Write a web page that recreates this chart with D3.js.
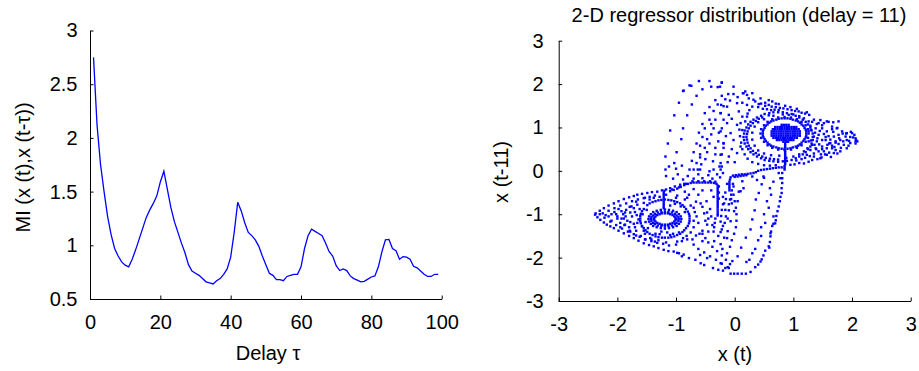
<!DOCTYPE html>
<html><head><meta charset="utf-8">
<script src="https://cdn.jsdelivr.net/npm/d3@7"></script>
<style>body{margin:0;background:#fff}svg{display:block}</style>
</head><body><svg id="c" width="919" height="371"></svg>
<script>
// ---------- Left panel data ----------
const miDelays = d3.range(1, 100);
const miValues = [2.75,2.12,1.75,1.50,1.27,1.10,0.97,0.90,0.845,0.815,
0.80,0.87,0.96,1.06,1.16,1.26,1.33,1.39,1.46,1.59,
1.69,1.52,1.35,1.22,1.12,1.02,0.93,0.82,0.76,0.74,
0.72,0.69,0.66,0.65,0.64,0.67,0.69,0.73,0.78,0.89,
1.12,1.40,1.32,1.21,1.12,1.09,1.05,0.99,0.90,0.82,
0.74,0.72,0.68,0.68,0.67,0.71,0.72,0.73,0.73,0.80,
0.97,1.09,1.15,1.13,1.11,1.09,1.02,0.94,0.90,0.81,
0.765,0.78,0.765,0.715,0.69,0.675,0.66,0.665,0.685,0.705,
0.715,0.80,0.94,1.05,1.055,0.97,0.95,0.87,0.895,0.89,
0.87,0.805,0.79,0.76,0.73,0.71,0.71,0.73,0.73];
const leftXTicks = [0,20,40,60,80,100];
const leftYTicks = [0.5,1,1.5,2,2.5,3];
const rightTicks = [-3,-2,-1,0,1,2,3];

// ---------- Right panel data (x(t), x(t-11)) ----------
const rightCore = [[0.80,1.06],[0.84,1.06],[0.88,1.06],[0.92,1.06],
[0.69,1.01],[0.73,1.01],[0.77,1.01],[0.81,1.01],[0.85,1.01],[0.89,1.01],[0.93,1.01],[0.97,1.01],[1.01,1.01],[1.05,1.01],
[0.65,0.96],[0.69,0.96],[0.73,0.96],[0.77,0.96],[0.81,0.96],[0.85,0.96],[0.89,0.96],[0.93,0.96],[0.97,0.96],[1.01,0.96],[1.05,0.96],[1.09,0.96],
[0.63,0.91],[0.67,0.91],[0.71,0.91],[0.75,0.91],[0.79,0.91],[0.83,0.91],[0.87,0.91],[0.91,0.91],[0.95,0.91],[0.99,0.91],[1.03,0.91],[1.07,0.91],[1.11,0.91],
[0.63,0.86],[0.67,0.86],[0.71,0.86],[0.75,0.86],[0.79,0.86],[0.83,0.86],[0.87,0.86],[0.91,0.86],[0.95,0.86],[0.99,0.86],[1.03,0.86],[1.07,0.86],[1.11,0.86],
[0.63,0.81],[0.67,0.81],[0.71,0.81],[0.75,0.81],[0.79,0.81],[0.83,0.81],[0.87,0.81],[0.91,0.81],[0.95,0.81],[0.99,0.81],[1.03,0.81],[1.07,0.81],[1.11,0.81],
[0.66,0.76],[0.70,0.76],[0.74,0.76],[0.78,0.76],[0.82,0.76],[0.86,0.76],[0.90,0.76],[0.94,0.76],[0.98,0.76],[1.02,0.76],[1.06,0.76],
[0.72,0.71],[0.76,0.71],[0.80,0.71],[0.84,0.71],[0.88,0.71],[0.92,0.71],[0.96,0.71],[1.00,0.71],
[0.83,0.67],[0.87,0.67],[0.91,0.67]];
const rightRingA = [[1.22,0.86],[1.22,0.91],[1.21,0.95],[1.19,0.99],[1.17,1.04],[1.14,1.07],[1.11,1.11],[1.08,1.14],[1.04,1.16],[0.99,1.18],[0.95,1.20],[0.90,1.21],[0.85,1.21],
[0.80,1.21],[0.75,1.20],[0.71,1.18],[0.66,1.16],[0.62,1.14],[0.59,1.11],[0.56,1.07],[0.53,1.04],[0.51,0.99],[0.49,0.95],[0.48,0.91],[0.48,0.86],
[0.48,0.81],[0.49,0.77],[0.51,0.73],[0.53,0.69],[0.56,0.65],[0.59,0.61],[0.62,0.58],[0.66,0.56],[0.71,0.54],[0.75,0.52],[0.80,0.51],[0.85,0.51],
[0.90,0.51],[0.95,0.52],[0.99,0.54],[1.04,0.56],[1.08,0.58],[1.11,0.61],[1.14,0.65],[1.17,0.69],[1.19,0.73],[1.21,0.77],[1.22,0.81]];
const rightRingA2 = [[1.26,0.86],[1.25,0.96],[1.21,1.05],[1.14,1.13],[1.06,1.19],[0.96,1.23],[0.85,1.24],[0.74,1.23],[0.64,1.19],[0.56,1.13],[0.50,1.05],[0.45,0.96],[0.44,0.86],[0.45,0.76],[0.50,0.67],[0.56,0.59],[0.64,0.53],[0.74,0.49],[0.85,0.48],[0.96,0.49],[1.06,0.53],[1.14,0.59],[1.21,0.67],[1.25,0.76]];
const rightRingB = [[1.33,0.78],[1.33,0.86],[1.31,0.93],[1.29,1.00],[1.25,1.07],[1.21,1.13],[1.16,1.18],[1.10,1.23],[1.04,1.27],[0.97,1.31],[0.89,1.33],[0.82,1.35],[0.74,1.35],
[0.66,1.35],[0.59,1.33],[0.51,1.31],[0.45,1.27],[0.38,1.23],[0.32,1.18],[0.27,1.13],[0.23,1.07],[0.20,1.00],[0.17,0.93],[0.16,0.86],[0.15,0.78],
[0.16,0.71],[0.17,0.63],[0.20,0.56],[0.23,0.50],[0.27,0.43],[0.32,0.38],[0.38,0.33],[0.45,0.29],[0.51,0.25],[0.59,0.23],[0.66,0.22],[0.74,0.21],
[0.82,0.22],[0.89,0.23],[0.97,0.25],[1.04,0.29],[1.10,0.33],[1.16,0.38],[1.21,0.43],[1.25,0.50],[1.29,0.56],[1.31,0.63],[1.33,0.71]];
const rightRingB2 = [[0.47,1.23],[0.36,1.15],[0.27,1.04],[0.22,0.91],[0.20,0.78],[0.22,0.65],[0.27,0.52],[0.36,0.41],[0.47,0.33],[0.60,0.28],[0.74,0.26],
[0.41,1.20],[0.31,1.10],[0.24,0.98],[0.21,0.85],[0.21,0.72],[0.24,0.58],[0.31,0.46],[0.41,0.37],[0.53,0.30],[0.67,0.27],
[0.88,0.30],[1.00,0.33],[1.10,0.38],[1.18,0.45],[1.24,0.52],[1.00,1.30],[1.10,1.26],[1.18,1.21],[0.92,1.29],[0.58,1.28],
[0.34,1.02],[0.30,0.88],[0.30,0.72],[0.34,0.58],[0.40,0.47],[0.50,0.40],[0.62,0.36],[0.76,0.35],[0.40,1.12],[0.50,1.19],[0.66,1.27],[0.82,1.30]];
const rightStem = [[0.86,0.63],[0.86,0.59],[0.86,0.55],[0.86,0.47],[0.86,0.43],[0.86,0.39],[0.86,0.35],[0.86,0.31],[0.86,0.27],[0.86,0.23],[0.86,0.19],[0.86,0.15],[0.85,0.11],[0.85,0.07],[0.85,0.03]];
const rightTail = [[1.32,1.13],[1.40,1.08],[1.49,1.05],[1.60,1.13],[1.66,0.96],[1.75,0.99],[1.84,0.86],[1.90,0.86],[1.98,0.90],[2.02,0.77],[2.07,0.71],[2.06,0.63],[1.94,0.58],[1.81,0.53],[1.72,0.48],[1.61,0.42],[1.54,0.38],[1.48,0.31],[1.41,0.27],[1.32,0.25],[1.26,0.21],[1.18,0.17],[1.78,0.75],[1.72,0.65],[1.66,0.58],[1.61,0.63],[1.55,0.78],[1.49,0.71],[1.44,0.61],[1.39,0.50],[1.35,0.40],[1.75,0.40],[1.64,0.32],[1.49,0.50],
[1.26,1.14],[1.35,1.18],[1.43,1.10],[1.57,1.14],[1.49,0.98],[1.57,0.91],[1.66,1.02],[1.74,0.98],[1.83,0.91],[1.91,0.87],[2.00,0.87],[2.06,0.75],[2.06,0.68],[1.97,0.64],[1.91,0.52],[1.80,0.45],[1.69,0.41],[1.57,0.37],[1.46,0.29],[1.35,0.33],[1.80,0.71],[1.72,0.68],[1.69,0.79],[1.63,0.64],[1.55,0.71],[1.49,0.56],[1.40,0.68],[1.38,0.52],[1.43,0.45],[1.29,0.48],[1.23,0.37],[1.32,0.60],[1.35,0.79],[1.43,0.83],[1.26,0.91],[1.26,0.68],[1.57,0.52],[1.66,0.52],[1.86,0.60],[1.91,0.71],[1.97,0.78],[1.89,0.79],[1.77,0.83],
[1.30,0.95],[1.30,0.70],[1.37,0.88],[1.36,0.60],[1.45,0.92],[1.52,0.85],[1.60,0.80],[1.68,0.90],[1.58,0.60],[1.52,0.45],[1.47,0.38],[1.70,0.55],[1.77,0.62],[1.85,0.68],[1.63,0.72],[1.41,0.75],[2.09,0.68],[2.04,0.83],[1.95,0.69],[1.29,1.04],[1.38,0.98],[1.46,1.17],[1.52,1.10],[1.68,1.12],[1.77,1.14],
[1.10,0.18],[1.02,0.15],[0.95,0.14],[1.14,0.27],[1.20,0.30],[1.28,0.34],[1.05,0.24]];
const rightUpper = [[0.35,1.60],[0.45,1.55],[0.52,1.50],[0.58,1.52],[0.63,1.48],[0.70,1.47],[0.77,1.45],[0.83,1.44],[0.90,1.42],[0.97,1.40],[1.03,1.38],[1.09,1.37],[1.14,1.34],[1.20,1.32],[1.27,1.29],[0.40,1.47],[0.48,1.43],[0.55,1.42],[0.62,1.40],[0.68,1.41],[0.75,1.40],[0.30,1.48],[0.25,1.40],[0.22,1.32],[0.44,1.67],[0.52,1.57],[0.64,1.60],[0.75,1.54],[0.95,1.47],[1.06,1.43],[1.23,1.35],[0.86,1.50],[0.70,1.55],[0.58,1.63],[0.15,1.79],[0.30,1.79],[0.24,1.67],[0.13,1.25],[0.10,1.10],[0.08,0.95],[0.09,0.80],[0.11,0.65],[0.13,0.50],[0.17,0.38],[0.22,0.28],[0.30,0.20],[0.40,0.16],[0.50,0.13],[0.60,0.12],[0.70,0.13]];
const upperBand = [[-0.61,2.07],[-0.43,2.07],[-0.77,1.97],[-0.22,2.03],[-0.55,1.88],[-0.40,1.94],[-0.25,1.94],[-0.88,1.84],[-0.65,1.73],[-0.22,1.73],[-0.95,1.57],[-0.73,1.53],[-0.33,1.63],[-0.29,1.53],[-0.19,1.49],[-0.43,1.47],
[-1.03,1.28],[-0.81,1.28],[-0.51,1.33],[-0.36,1.38],[-0.24,1.33],[-0.43,1.18],[-0.33,1.18],[-0.19,1.18],[-1.10,0.93],[-0.88,0.98],[-0.55,1.08],[-0.40,1.08],[-0.51,0.98],[-0.36,0.98],[-0.22,0.98],[-0.61,0.88],[-0.40,0.84],[-0.27,0.88],[-0.55,0.78],[-0.47,0.73],
[-1.14,0.63],[-0.91,0.73],[-0.65,0.63],[-0.59,0.58],[-0.43,0.63],[-0.28,0.68],[-0.19,0.63],[-0.51,0.53],[-0.33,0.53],[-0.19,0.53],[-0.99,0.43],[-0.70,0.43],[-0.59,0.38],[-0.47,0.43],[-0.33,0.38],[-0.22,0.38],[-1.18,0.33],[-0.59,0.31],[-0.50,0.27],[-0.37,0.22],
[-1.03,0.18],[-0.73,0.23],[-0.65,0.18],[-0.57,0.15],[-0.24,0.18],[-1.18,0.03],[-0.77,0.03],[-0.70,0.03],[-0.63,0.03],[-0.59,0.03],[-0.43,-0.01],[-0.36,0.03],[-0.24,0.03],
[-0.22,2.04],[-0.02,1.94],[-0.11,1.77],[-0.02,1.77],[0.14,1.79],[0.21,1.75],[0.32,1.64],[-0.16,1.65],[-0.23,1.52],[-0.13,1.48],[0.04,1.56],[0.13,1.57],[0.21,1.52],[0.41,1.54],[-0.24,1.33],[-0.10,1.29],[0.07,1.37],[0.21,1.25],[-0.13,1.10],[0.04,1.06],[0.18,1.14],[-0.24,0.91],[-0.07,0.87],[0.13,0.94],[-0.19,0.64],[-0.02,0.71],[0.10,0.56],[-0.24,0.37],[-0.10,0.33],[0.04,0.41],[-0.26,0.10],[-0.12,0.20],[0.00,0.20],[-0.05,0.50],[-0.15,0.80],[-0.05,1.20],[0.05,1.70],[-0.08,1.62],[-0.74,1.96],[-0.87,1.85],[-0.29,1.93],[0.18,1.83],
[-1.17,-0.12],[-1.05,-0.18],[-0.97,-0.08],[-0.88,-0.20],[-0.80,-0.12],[-0.70,-0.18],[-0.62,-0.08],[-0.55,-0.17],[-0.45,-0.10],[-0.38,-0.18],[-0.30,-0.08],[-0.25,-0.15],[-0.22,0.10],[-0.20,-0.05],[-1.12,0.10],[-1.00,0.05],[-0.90,0.12]];
const leftRing1 = [[-1.00,-1.11],[-1.01,-1.08],[-1.03,-1.05],[-1.06,-1.02],[-1.10,-1.00],[-1.14,-0.98],[-1.19,-0.98],[-1.24,-0.98],[-1.28,-1.00],[-1.32,-1.02],[-1.35,-1.05],[-1.37,-1.08],[-1.38,-1.11],[-1.37,-1.14],[-1.35,-1.17],[-1.32,-1.20],[-1.28,-1.22],[-1.24,-1.24],[-1.19,-1.24],[-1.14,-1.24],[-1.10,-1.22],[-1.06,-1.20],[-1.03,-1.17],[-1.01,-1.14]];
const leftRing2 = [[-0.955,-1.11],[-0.96,-1.07],[-0.99,-1.03],[-1.02,-0.99],[-1.07,-0.96],[-1.13,-0.95],[-1.19,-0.94],[-1.25,-0.95],[-1.31,-0.96],[-1.36,-0.99],[-1.39,-1.03],[-1.42,-1.07],[-1.43,-1.11],[-1.42,-1.15],[-1.39,-1.20],[-1.36,-1.23],[-1.31,-1.26],[-1.25,-1.27],[-1.19,-1.28],[-1.13,-1.27],[-1.07,-1.26],[-1.02,-1.23],[-0.99,-1.20],[-0.96,-1.15]];
const leftRing3 = [[-0.91,-1.11],[-0.92,-1.05],[-0.95,-1.00],[-0.99,-0.95],[-1.05,-0.92],[-1.12,-0.90],[-1.19,-0.89],[-1.26,-0.90],[-1.33,-0.92],[-1.39,-0.95],[-1.43,-1.00],[-1.46,-1.05],[-1.47,-1.11],[-1.46,-1.17],[-1.43,-1.22],[-1.39,-1.27],[-1.33,-1.30],[-1.26,-1.32],[-1.19,-1.33],[-1.12,-1.32],[-1.05,-1.30],[-0.99,-1.27],[-0.95,-1.22],[-0.92,-1.17]];
const leftRing4 = [[-0.77,-1.10],[-0.78,-0.99],[-0.83,-0.88],[-0.89,-0.79],[-0.98,-0.72],[-1.08,-0.68],[-1.19,-0.66],[-1.30,-0.68],[-1.40,-0.72],[-1.49,-0.79],[-1.55,-0.88],[-1.60,-0.99],[-1.61,-1.10],[-1.60,-1.21],[-1.55,-1.32],[-1.49,-1.41],[-1.40,-1.48],[-1.30,-1.53],[-1.19,-1.54],[-1.08,-1.53],[-0.98,-1.48],[-0.89,-1.41],[-0.83,-1.32],[-0.78,-1.21],
[-0.80,-0.94],[-0.86,-0.83],[-0.93,-0.75],[-1.03,-0.70],[-1.13,-0.67],[-1.25,-0.67],[-1.35,-0.70],[-1.45,-0.75],
[-1.58,-0.93],[-1.61,-1.04],[-1.61,-1.16],[-1.58,-1.27],[-1.52,-1.37],[-1.45,-1.45],[-1.35,-1.51],[-1.24,-1.54],[-1.13,-1.54],[-1.03,-1.51],[-0.93,-1.45],[-0.86,-1.37],[-0.80,-1.27],[-0.77,-1.16],[-0.77,-1.04]];
const leftRing5 = [[-0.45,-1.10],[-0.47,-0.96],[-0.55,-0.83],[-0.66,-0.71],[-0.81,-0.62],[-0.98,-0.57],[-1.17,-0.55],[-1.36,-0.57],[-1.53,-0.62],[-1.68,-0.71],[-1.79,-0.83],[-1.87,-0.96],[-1.89,-1.10],[-1.87,-1.24],[-1.79,-1.38],[-1.68,-1.49],[-1.53,-1.58],[-1.36,-1.63],[-1.17,-1.65],[-0.98,-1.63],[-0.81,-1.58],[-0.66,-1.49],[-0.55,-1.38],[-0.47,-1.24]];
const leftTriangle = [[-2.37,-0.98],[-2.30,-0.92],[-2.23,-0.86],[-2.15,-0.80],[-2.06,-0.75],[-1.98,-0.70],[-1.89,-0.65],[-1.80,-0.61],[-1.72,-0.58],[-1.66,-0.55],[-1.58,-0.53],[-1.49,-0.51],[-1.41,-0.49],[-1.32,-0.48],[-1.24,-0.45],[-1.17,-0.43],[-1.10,-0.40],[-1.02,-0.36],[-0.93,-0.32],[-0.86,-0.30],
[-2.38,-1.01],[-2.34,-1.07],[-2.29,-1.13],[-2.23,-1.19],[-2.18,-1.24],[-2.12,-1.28],[-2.06,-1.32],[-1.98,-1.38],[-1.89,-1.44],[-1.80,-1.50],[-1.72,-1.55],[-1.64,-1.61],[-1.55,-1.67],[-1.46,-1.71],[-1.38,-1.74],[-1.30,-1.78],[-1.21,-1.82],[-1.13,-1.85],[-1.04,-1.86],[-0.95,-1.90],[-0.87,-1.93],
[-2.25,-0.98],[-2.15,-0.92],[-2.05,-0.86],[-1.95,-0.80],[-1.85,-0.75],[-1.75,-0.70],[-1.65,-0.66],[-1.55,-0.63],[-1.45,-0.60],
[-2.22,-1.08],[-2.12,-1.17],[-2.02,-1.25],[-1.92,-1.33],[-1.82,-1.40],[-1.72,-1.46],[-1.62,-1.52],[-1.52,-1.58],[-1.42,-1.62],[-1.32,-1.66],
[-2.30,-1.00],[-2.20,-1.02],[-2.10,-1.00],[-2.00,-1.05]];
const leftScatter = [[-2.05,-0.95],[-2.00,-1.10],[-1.95,-1.20],[-1.98,-0.88],[-1.90,-1.00],[-1.85,-0.90],[-1.83,-1.15],[-1.80,-1.30],[-1.76,-0.82],[-1.75,-1.05],[-1.72,-1.22],[-1.70,-0.95],[-1.68,-1.38],[-1.66,-0.78],[-1.64,-1.12],[-1.62,-0.88],[-1.58,-1.28],[-1.57,-1.00],[-1.55,-0.74],[-1.53,-1.45],[-1.52,-1.18],[-1.50,-0.90],[-1.48,-1.32],[-1.45,-0.66],[-1.44,-1.55],[-1.38,-0.62],[-1.35,-1.45],[-1.30,-1.60],[-1.28,-0.60],[-1.25,-1.40],[-1.22,-1.68],[-1.15,-1.42],[-1.12,-1.72],[-1.10,-0.80],[-1.05,-1.45],[-1.02,-0.76],[-1.00,-1.70],[-0.95,-1.42],[-0.92,-0.82],[-0.90,-1.62],[-0.85,-0.95],[-0.82,-1.50],[-0.75,-0.80],[-0.72,-1.58],[-0.70,-1.30],[-0.68,-0.95],[-0.65,-1.05],[-0.62,-1.20],[-0.60,-1.45],[-0.58,-0.75],[-0.55,-1.62],[-0.52,-0.98],[-0.50,-1.15],[-0.48,-0.70],[-0.45,-1.40],[-0.42,-0.88],[-0.40,-1.05],[-0.38,-1.25],[-0.36,-0.60],[-0.40,-0.45],[-0.55,-0.45],[-0.70,-0.42],[-0.85,-0.48],[-0.62,-0.55],[-0.78,-0.55],[-1.95,-1.30],[-2.10,-1.15],[-2.15,-1.05],[-1.88,-1.25],[-1.78,-1.40],[-1.60,-1.50],
[-2.02,-1.00],[-1.93,-0.93],[-1.93,-1.10],[-1.86,-1.05],[-1.78,-0.96],[-1.78,-1.18],[-1.72,-0.86],[-1.70,-1.30],[-1.67,-1.02],[-1.66,-1.20],[-1.55,-1.38],[-1.42,-1.58],[-1.28,-1.46],[-1.10,-1.48],[-0.88,-1.55],[-0.75,-1.42],[-0.70,-1.15],[-0.70,-0.85],[-0.85,-0.66],[-1.00,-0.62]];
const leftStrands = [[-1.21,-0.86],[-1.21,-0.81],[-1.21,-0.76],[-1.21,-0.71],[-1.21,-0.66],[-1.21,-0.61],[-1.21,-0.56],[-1.21,-0.51],[-1.20,-0.46],
[-1.10,-0.47],[-1.04,-0.44],[-0.98,-0.41],[-0.92,-0.37],[-0.86,-0.33],[-0.80,-0.30],[-0.75,-0.28],[-0.70,-0.27],[-0.65,-0.27],[-0.60,-0.27],[-0.55,-0.27],[-0.50,-0.27],[-0.45,-0.27],[-0.40,-0.27],[-0.35,-0.28],[-0.31,-0.30],[-0.72,-0.24],[-0.62,-0.24],[-0.52,-0.24],[-0.42,-0.24],[-0.33,-0.25],[-1.07,-0.43],[-0.95,-0.38],[-0.83,-0.30],
[-0.29,-0.34],[-0.29,-0.39],[-0.29,-0.44],[-0.29,-0.49],[-0.29,-0.54],[-0.29,-0.59],[-0.29,-0.64],[-0.29,-0.69],[-0.29,-0.74],[-0.29,-0.79],[-0.29,-0.84],[-0.29,-0.89],[-0.29,-0.94],[-0.29,-0.99],[-0.29,-1.03],[-0.27,-0.36],[-0.27,-0.50],[-0.27,-0.64],
[-0.33,-1.10],[-0.34,-1.20],[-0.35,-1.30],[-0.36,-1.40]];
const rightStrands = [[-0.09,-0.45],[-0.09,-0.40],[-0.09,-0.35],[-0.09,-0.30],[-0.09,-0.25],[-0.08,-0.20],[-0.07,-0.15],[-0.03,-0.11],[0.02,-0.10],[0.07,-0.09],[0.12,-0.08],[0.17,-0.08],[0.22,-0.07],[0.27,-0.06],[0.32,-0.05],[0.36,-0.03],[0.40,0.00],[0.45,0.02],[0.50,0.03],[0.55,0.04],[0.60,0.05],[0.65,0.06],[0.70,0.07],[0.75,0.08],[0.80,0.08],[0.00,-0.14],[0.05,-0.13],[0.10,-0.12],[0.15,-0.11],[0.20,-0.10],[-0.06,-0.55],[-0.06,-0.65],[-0.05,-0.75]];
const lowerBand = [[0.81,-0.05],[0.81,-0.17],[0.81,-0.28],[0.80,-0.40],[0.80,-0.51],[0.78,-0.60],[0.77,-0.70],[0.75,-0.82],[0.73,-0.93],[0.71,-1.04],[0.70,-1.14],[0.66,-1.22],[0.64,-1.27],[0.62,-1.40],[0.61,-1.51],[0.60,-1.64],[0.59,-1.77],[0.52,-1.84],[0.49,-1.95],[0.46,-2.04],[0.40,-2.16],[0.35,-2.22],[0.27,-2.33],[0.19,-2.37],[0.12,-2.37],[0.05,-2.37],[-0.01,-2.37],[-0.07,-2.37],
[0.50,-0.16],[0.46,-0.31],[0.41,-0.51],[0.36,-0.66],[0.34,-0.91],[0.30,-1.12],[0.27,-1.35],[0.19,-1.54],[0.11,-1.77],[0.05,-1.97],[-0.04,-2.08],[-0.10,-2.24],
[0.13,-0.24],[0.10,-0.47],[0.05,-0.70],[-0.01,-0.93],[-0.07,-1.16],[-0.12,-1.39],[-0.18,-1.54],
[-0.55,-1.45],[-0.50,-1.55],[-0.45,-1.65],[-0.38,-1.75],[-0.30,-1.85],[-0.22,-1.95],[-0.15,-2.05],[-0.08,-2.15],[-0.70,-1.70],[-0.62,-1.80],[-0.52,-1.88],[-0.42,-1.97],[-0.32,-2.05],[-0.22,-2.14],[-0.12,-2.22],[-0.20,-0.60],[-0.18,-0.75],[-0.16,-0.90],[-0.15,-1.05],[-0.17,-1.20],[-0.22,-1.35],[-0.28,-1.50],[-0.35,-1.62],[-0.02,-0.55],[0.00,-0.70],[0.02,-0.85],[0.03,-1.00],[0.03,-1.15],[0.02,-1.30],[-0.01,-1.45],[-0.05,-1.60],[-0.08,-1.75],[-0.13,-1.90],
[-0.98,-1.89],[-0.90,-1.97],[-0.78,-2.01],[-0.67,-2.05],[-0.58,-2.13],[-0.52,-2.17],[-0.37,-2.24],[-0.28,-2.28],[-0.20,-2.30],[-0.47,-2.01],[-0.59,-1.94],[-0.24,-2.13],[-0.16,-2.24],
[0.30,-0.13],[0.38,-0.21],[0.49,-0.13],[0.66,-0.25],[0.75,-0.05],[0.78,-0.17],[0.07,-0.48],[0.15,-0.40],[-0.02,-0.36],[0.60,-0.40],[0.55,-0.70],[0.50,-1.00],[0.45,-1.30],[0.40,-1.60],[0.30,-1.90],[0.20,-2.10],[0.62,-0.55],[0.58,-0.85],[0.52,-1.20],[0.45,-1.50],[0.35,-1.80],[0.25,-2.05],[0.66,-1.05],[0.69,-1.21],[0.61,-1.44],[0.58,-1.74],[0.44,-2.09],
[-0.13,-0.30],[-0.03,-0.30],[-0.16,-0.50],[-0.05,-0.45],[-0.15,-0.65],[-0.08,-0.66],[-0.20,-0.77],[-0.10,-0.77],[-0.22,-0.90],[-0.10,-0.91],[-0.23,-1.04],[-0.24,-1.17],[-0.12,-1.10],[-0.20,-1.27],[-0.24,-1.41],[-0.13,-1.55],[-0.24,-1.69],[-0.21,-1.80]];

// ---------- Drawing ----------
const FONT = '"Liberation Sans", Arial, Helvetica, sans-serif';
const BLUE = '#0000ff';
const svg = d3.select('#c');
svg.append('rect').attr('width', 919).attr('height', 371).attr('fill', '#fff');

function styleAxis(g) {
  g.attr('font-size', 20).attr('font-family', FONT);
  g.selectAll('path.domain').attr('stroke', '#000').attr('stroke-width', 1);
  g.selectAll('.tick line').attr('stroke', '#000');
  g.selectAll('.tick text').attr('fill', '#000');
}

// Left panel
const xL = d3.scaleLinear().domain([0, 100]).range([90, 441.7]);
const yL = d3.scaleLinear().domain([0.5, 3]).range([299, 30.5]);
svg.append('g').attr('transform', 'translate(0,299)')
  .call(d3.axisBottom(xL).tickValues(leftXTicks).tickSize(-3.5).tickSizeOuter(0).tickPadding(16).tickFormat(d => String(d)))
  .call(styleAxis);
svg.append('g').attr('transform', 'translate(90,0)')
  .call(d3.axisLeft(yL).tickValues(leftYTicks).tickSize(-3.5).tickSizeOuter(0).tickPadding(12.5).tickFormat(d => String(d)))
  .call(styleAxis);
svg.append('path')
  .datum(miValues)
  .attr('fill', 'none').attr('stroke', BLUE).attr('stroke-width', 1.3)
  .attr('d', d3.line().x((d, i) => xL(miDelays[i])).y(d => yL(d)));
svg.append('text').attr('x', 268).attr('y', 360).attr('text-anchor', 'middle')
  .attr('font-family', FONT).attr('font-size', 20).text('Delay \u03C4');
svg.append('text').attr('transform', 'translate(30,167.5) rotate(-90)').attr('text-anchor', 'middle')
  .attr('font-family', FONT).attr('font-size', 20).text('MI (x (t),x (t-\u03C4))');

// Right panel
const xR = d3.scaleLinear().domain([-3, 3]).range([558.7, 910.7]);
const yR = d3.scaleLinear().domain([-3, 3]).range([301, 40.7]);
svg.append('g').attr('transform', 'translate(0,301)')
  .call(d3.axisBottom(xR).tickValues(rightTicks).tickSize(-3.5).tickSizeOuter(0).tickPadding(16).tickFormat(d => String(d)))
  .call(styleAxis);
svg.append('g').attr('transform', 'translate(558.7,0)')
  .call(d3.axisLeft(yR).tickValues(rightTicks).tickSize(-3.5).tickSizeOuter(0).tickPadding(15).tickFormat(d => String(d)))
  .call(styleAxis);

const allPoints = [].concat(rightCore, rightRingA, rightRingA2, rightRingB, rightRingB2, rightStem, rightTail, rightUpper,
  upperBand, leftRing1, leftRing2, leftRing3, leftRing4, leftRing5, leftTriangle, leftScatter, leftStrands, rightStrands, lowerBand);
const S = 2.4;
svg.append('g').selectAll('rect').data(allPoints).join('rect')
  .attr('x', d => xR(d[0]) - S / 2).attr('y', d => yR(d[1]) - S / 2)
  .attr('width', S).attr('height', S).attr('fill', BLUE);

svg.append('text').attr('x', 739).attr('y', 22).attr('text-anchor', 'middle')
  .attr('font-family', FONT).attr('font-size', 20).text('2-D regressor distribution (delay = 11)');
svg.append('text').attr('x', 735).attr('y', 361).attr('text-anchor', 'middle')
  .attr('font-family', FONT).attr('font-size', 20).text('x (t)');
svg.append('text').attr('transform', 'translate(508,172) rotate(-90)').attr('text-anchor', 'middle')
  .attr('font-family', FONT).attr('font-size', 20).text('x (t-11)');
</script>
</body></html>
